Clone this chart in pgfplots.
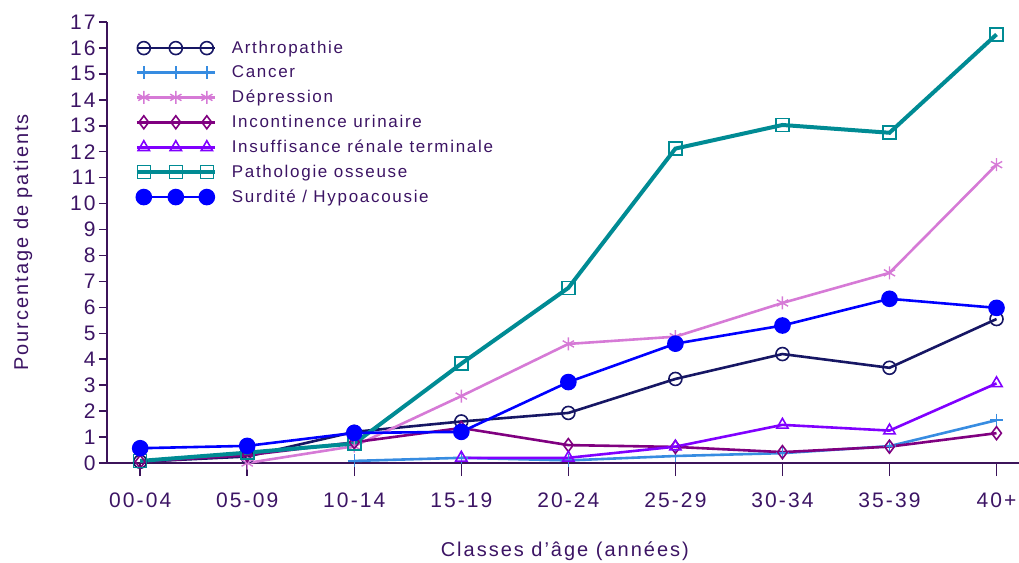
\documentclass[border=0pt]{standalone}
\usepackage{pgfplots}
\pgfplotsset{compat=1.18}
\usepackage{fontspec}
\setmainfont{Liberation Sans}[LetterSpace=10]

\definecolor{txtc}{RGB}{60,20,100}
\definecolor{axc}{RGB}{60,20,90}
\definecolor{arthro}{RGB}{22,22,100}
\definecolor{cancer}{RGB}{55,140,225}
\definecolor{depr}{RGB}{214,122,214}
\definecolor{incont}{RGB}{128,0,128}
\definecolor{insuf}{RGB}{128,0,255}
\definecolor{patho}{RGB}{0,139,148}
\definecolor{surdi}{RGB}{0,0,255}

\begin{document}
\begin{tikzpicture}
\begin{axis}[
  scale only axis,
  width=912pt, height=441pt,
  xmin=-0.31, xmax=8.21,
  ymin=0, ymax=17,
  axis x line=bottom, axis y line=left,
  axis line style={-, draw=axc, line width=1.5pt},
  xtick={0,...,8},
  xticklabels={00-04,05-09,10-14,15-19,20-24,25-29,30-34,35-39,40+},
  ytick={0,...,17},
  tick align=outside,
  major tick length=8pt,
  xtick style={/pgfplots/major tick length=13pt},
  tick style={draw=axc, line width=1.5pt},
  x tick label style={font=\fontsize{21}{24}\selectfont, text=txtc, anchor=base, yshift=-36pt},
  y tick label style={font=\fontsize{21}{24}\selectfont, text=txtc, /pgf/number format/assume math mode=true},
  xlabel={Classes d'âge (années)},
  ylabel={Pourcentage de patients},
  label style={font=\fontsize{20}{24}\selectfont, text=txtc},
  xlabel style={at={(axis description cs:0.502,-0.211)}, anchor=base},
  ylabel style={at={(axis description cs:-0.0921,0.5)}, anchor=center},
  legend style={draw=none, fill=none, at={(0.027,0.966)}, anchor=north west,
    font=\fontsize{17}{19}\selectfont, text=txtc, row sep=7pt, column sep=13pt},
  legend cell align=left,
  legend image code/.code={
    \draw[mark indices={2,3,4}] plot coordinates {(0pt,0pt)(7pt,0pt)(39pt,0pt)(70pt,0pt)(78pt,0pt)};
  },
  every axis plot/.append style={line width=2.6pt, mark size=6.5pt},
  clip=false,
]
\addplot[color=arthro, mark=o, mark options={line width=1.6pt}] coordinates {
  (0,0.05)(1,0.25)(2,1.2)(3,1.6)(4,1.93)(5,3.24)(6,4.2)(7,3.67)(8,5.55)};
\addlegendentry{Arthropathie}
\addplot[color=cancer, mark=+, mark options={line width=1.4pt}] coordinates {
  (2,0.08)(3,0.2)(4,0.1)(5,0.27)(6,0.38)(7,0.65)(8,1.65)};
\addlegendentry{Cancer}
\addplot[color=depr, mark=asterisk, mark options={line width=1.4pt}] coordinates {
  (1,0.0)(2,0.65)(3,2.58)(4,4.59)(5,4.87)(6,6.17)(7,7.33)(8,11.5)};
\addlegendentry{Dépression}
\addplot[color=incont, mark=diamond, mark options={line width=1.6pt}] coordinates {
  (0,0.05)(1,0.3)(2,0.8)(3,1.35)(4,0.69)(5,0.62)(6,0.42)(7,0.63)(8,1.15)};
\addlegendentry{Incontinence urinaire}
\addplot[color=insuf, mark=triangle, mark options={line width=1.6pt}] coordinates {
  (3,0.2)(4,0.2)(5,0.63)(6,1.47)(7,1.25)(8,3.07)};
\addlegendentry{Insuffisance rénale terminale}
\addplot[color=patho, line width=4pt, mark=square, mark options={line width=1.6pt}] coordinates {
  (0,0.08)(1,0.4)(2,0.75)(3,3.83)(4,6.75)(5,12.12)(6,13.03)(7,12.73)(8,16.52)};
\addlegendentry{Pathologie osseuse}
\addplot[color=surdi, mark=*, mark size=7pt] coordinates {
  (0,0.57)(1,0.66)(2,1.16)(3,1.2)(4,3.12)(5,4.6)(6,5.3)(7,6.33)(8,5.98)};
\addlegendentry{Surdité / Hypoacousie}
\end{axis}
\pgfresetboundingbox
\path[use as bounding box] ([xshift=-107pt,yshift=-99pt]current axis.south west)
  rectangle ([yshift=22pt]current axis.north east);
\end{tikzpicture}
\end{document}
